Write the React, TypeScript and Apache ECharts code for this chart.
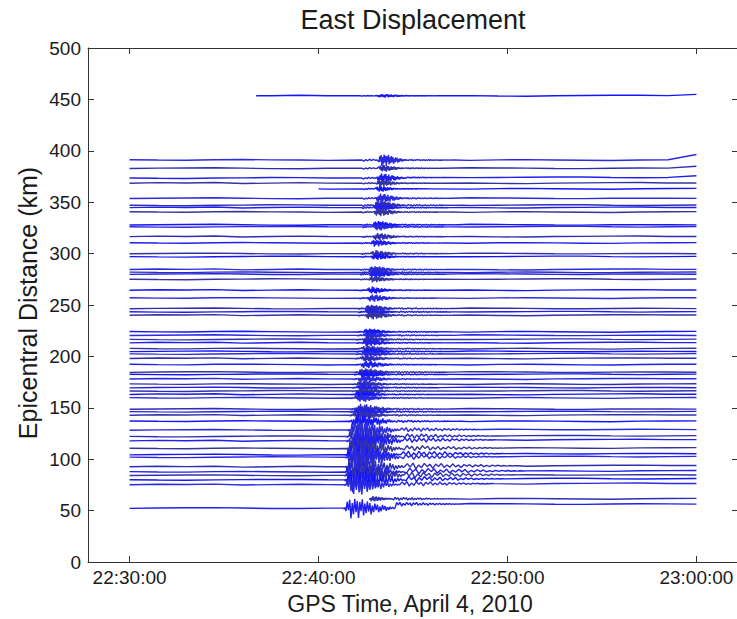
import React, { useEffect, useRef } from "react";
import * as echarts from "echarts";

// ---- axis ----
const TIME_MIN = -2.2; // minutes after 22:30:00
const TIME_MAX = 32.2;
const timeTickValues = [0, 10, 20, 30];
const timeTickLabels = ["22:30:00", "22:40:00", "22:50:00", "23:00:00"];

// ---- traces (one per station) ----
const traceDist = [
  453.5, 391, 383, 373.5, 368.5, 363, 353.8, 347, 344.7, 340.4,
  328, 326, 316.5, 310.3, 300, 297, 284.5, 281.7, 280, 275,
  264.4, 256.7, 246.6, 243.3, 240, 223.9, 220.5, 216.5, 213.2, 207.5,
  204.8, 202.4, 198, 192, 184.7, 182.5, 178, 173, 169.6, 166.3,
  163, 159.6, 148.8, 146.2, 142.8, 136.9, 128.4, 122.1, 117.8, 110.4,
  104.4, 101.9, 92.6, 87.6, 84.3, 79.9, 75.2, 61.5, 52.4,
];
const traceStart = [
  6.7, 0, 0, 0, 0, 10, 0, 0, 0, 0,
  0, 0, 0, 0, 0, 0, 0, 0, 0, 0,
  0, 0, 0, 0, 0, 0, 0, 0, 0, 0,
  0, 0, 0, 0, 0, 0, 0, 0, 0, 0,
  0, 0, 0, 0, 0, 0, 0, 0, 0, 0,
  0, 0, 0, 0, 0, 0, 0, 12.6, 0,
];
// first arrival (min after 22:30)
const traceOnset = [
  12.2, 12.3, 12.3, 12.3, 12.3, 12.35, 12.35, 12.3, 12.3, 12.3,
  12.3, 12.3, 12.3, 12.25, 12.25, 12.25, 12.2, 12.2, 12.2, 12.2,
  12.15, 12.15, 12.1, 12.1, 12.1, 12.05, 12.05, 12.0, 12.0, 12.0,
  12.0, 12.0, 11.95, 11.95, 11.9, 11.9, 11.85, 11.8, 11.8, 11.8,
  11.75, 11.75, 11.7, 11.7, 11.65, 11.6, 11.55, 11.5, 11.5, 11.5,
  11.45, 11.45, 11.45, 11.4, 11.4, 11.4, 11.4, 12.6, 11.35,
];
// delay from first arrival to the strong shaking (min)
const tracePreLen = [
  0.9, 0.9, 0.9, 0.8, 0.8, 0.7, 0.7, 0.7, 0.65, 0.65,
  0.6, 0.6, 0.6, 0.55, 0.55, 0.55, 0.5, 0.5, 0.5, 0.5,
  0.45, 0.45, 0.4, 0.4, 0.4, 0.35, 0.35, 0.35, 0.35, 0.3,
  0.3, 0.3, 0.3, 0.3, 0.25, 0.25, 0.25, 0.25, 0.25, 0.2,
  0.2, 0.2, 0.2, 0.2, 0.2, 0.15, 0.15, 0.15, 0.15, 0.1,
  0.1, 0.1, 0.1, 0.1, 0.1, 0.1, 0.1, 0.1, 0.1,
];
const traceAmp = [
  1.6, 6, 3.5, 4.5, 3.5, 3, 4.5, 5, 4, 4,
  4, 3.5, 3.5, 3.5, 3.5, 3, 3.5, 3.5, 3.5, 3,
  3.5, 3.5, 4, 4, 4, 3.5, 3.5, 3.5, 3.5, 3.5,
  3.5, 3.5, 3.5, 3.5, 4, 4, 3.5, 3.5, 3.5, 3.5,
  3.5, 4, 5, 5, 5, 7, 10, 12, 12, 12,
  12, 12, 12, 12, 12, 12, 10, 2.5, 10,
];
const traceBurstLen = [
  1.8, 1.5, 1.4, 1.5, 1.4, 1.3, 1.5, 1.6, 1.5, 1.5,
  1.5, 1.5, 1.5, 1.5, 1.6, 1.5, 1.6, 1.6, 1.6, 1.5,
  1.6, 1.6, 1.7, 1.7, 1.7, 1.7, 1.7, 1.7, 1.7, 1.8,
  1.8, 1.8, 1.8, 1.8, 1.9, 1.9, 1.9, 1.9, 1.9, 1.9,
  1.9, 1.9, 2.1, 2.1, 2.1, 2.3, 2.6, 2.8, 2.8, 2.8,
  2.8, 2.8, 3.0, 3.0, 3.0, 3.0, 2.8, 1.2, 2.6,
];
const traceCoda = [
  0.5, 1.0, 0.8, 0.9, 0.8, 0.6, 1.1, 1.3, 1.0, 1.0,
  1.1, 1.0, 0.9, 0.9, 0.9, 0.8, 1.0, 1.0, 0.9, 0.8,
  0.8, 0.8, 1.1, 1.1, 1.1, 1.0, 1.0, 0.9, 0.9, 1.0,
  1.0, 1.0, 0.9, 0.9, 1.1, 1.1, 0.9, 0.9, 0.9, 0.9,
  0.9, 0.9, 1.3, 1.3, 1.3, 1.8, 3.0, 3.5, 3.5, 4.0,
  4.0, 4.0, 4.2, 4.5, 4.2, 4.0, 3.5, 2.5, 3.0,
];
const traceCodaLen = [
  1.5, 2.5, 2.0, 2.0, 2.0, 1.5, 2.5, 3.0, 2.5, 2.5,
  3.0, 2.5, 2.5, 2.5, 2.5, 2.0, 2.5, 2.5, 2.5, 2.0,
  2.5, 2.5, 3.0, 3.0, 3.0, 3.0, 3.0, 2.5, 2.5, 3.0,
  3.0, 3.0, 2.5, 2.5, 3.0, 3.0, 2.5, 2.5, 2.5, 2.5,
  2.5, 2.5, 3.0, 3.0, 3.0, 3.5, 4.5, 5.0, 5.0, 5.5,
  5.5, 5.5, 6.0, 6.5, 6.0, 5.5, 5.0, 3.0, 3.5,
];
// coseismic offset after the shaking (km), and extra offset at the last sample (km)
const traceStep = [
  0, 0, 0, 0.5, 0, 0, 0, 0, 0, 0,
  0, 0, 0, 0, 0, 0, 0, 0, 0, 0,
  0, 0, 0, 0, 0, 0, 0, 0, 0, 0,
  0, 0, 0, 0, 0, 0, 0, 0, 0, 0,
  0, 0, 0, 0, 0, 0, 0.5, 0.5, 1, 0.5,
  1, 0.5, 1, 1, 0.5, 1, 1, 0, 4,
];
const traceTail = [
  1.2, 5, 2, 1.5, 0, 0, 0, 0, 0, 0,
  0, 0, 0, 0, 0, 0, 0, 0, 0, 0,
  0, 0, 0, 0, 0, 0, 0, 0, 0, 0,
  0, 0, 0, 0, 0, 0, 0, 0, 0, 0,
  0, 0, 0, 0, 0, 0, 0, 0, 0, 0,
  0, 0, 0, 0, 0, 0, 0, 0, 0,
];

// slow wander of the baselines (km) at these times (min)
const driftTimes = [0, 1.5, 3, 4.5, 6, 7.5, 9, 10.5, 18, 19.5, 21, 22.5, 24, 25.5, 27, 28.5, 30];
const driftA = [0, 0.5, 0.2, 0.6, -0.3, 0.1, 0.5, 0.1, 0.2, -0.2, -0.4, 0.1, 0.3, 0.5, 0.6, 0.2, 0.2];
const driftB = [0.3, 0, -0.2, 0.3, 0.5, 0.2, 0, -0.3, -0.3, 0.2, 0.4, 0.1, -0.2, -0.4, 0.1, 0.3, 0.4];
const driftC = [-0.2, 0.1, 0.3, 0.5, 0.1, -0.3, -0.4, 0, 0.5, 0.3, 0.1, -0.2, -0.3, 0, 0.2, 0.1, -0.1];
const driftD = [0.1, -0.2, -0.4, 0, 0.2, 0.5, 0.4, 0.1, -0.1, 0.1, 0.3, 0.5, 0.5, 0.1, -0.2, 0.1, 0.3];

// hand-drawn wave shapes (relative units)
const preWave = [0, -0.45, 0.15, -0.3, 0.35, -0.2, 0.25, -0.1, 0];
const burstA = [0.2, -0.5, 0.3, -0.9, 0.6, -0.4, 1.0, -0.7, 0.5, -1.0, 0.8, -0.3, 0.9, -0.85, 0.4, -0.6, 0.75, -0.5, 0.3, -0.7, 0.55, -0.2, 0.5, -0.45, 0.35, -0.5, 0.2, -0.3, 0.4, -0.25, 0.15, -0.3, 0.2, -0.1, 0.25, -0.15, 0.1, -0.12, 0.06, 0];
const burstB = [-0.3, 0.6, -0.2, 0.8, -1.0, 0.5, -0.6, 0.9, -0.4, 0.7, -0.95, 0.6, -0.3, 0.85, -0.7, 0.45, -0.5, 0.65, -0.35, 0.5, -0.6, 0.25, -0.4, 0.45, -0.2, 0.35, -0.4, 0.15, -0.3, 0.3, -0.15, 0.2, -0.25, 0.1, -0.15, 0.12, -0.08, 0.1, -0.04, 0];
const burstC = [0.4, -0.2, 0.7, -0.6, 0.3, -0.9, 1.0, -0.5, 0.8, -0.75, 0.35, -0.95, 0.7, -0.4, 0.6, -0.7, 0.25, -0.5, 0.55, -0.45, 0.3, -0.35, 0.5, -0.25, 0.3, -0.4, 0.2, -0.25, 0.3, -0.1, 0.2, -0.2, 0.1, -0.15, 0.12, -0.06, 0.08, -0.05, 0.03, 0];
const codaA = [0.5, -0.3, 0.6, -0.7, 0.2, -0.45, 0.55, -0.2, 0.35, -0.6, 0.4, -0.15, 0.5, -0.4, 0.2, -0.35, 0.45, -0.25, 0.15, -0.4, 0.3, -0.1, 0.25, -0.3, 0.2, -0.15, 0.25, -0.2, 0.1, -0.18, 0.15, -0.08, 0.12, -0.1, 0.06, -0.08, 0.05, -0.04, 0.03, 0];
const codaB = [-0.45, 0.6, -0.2, 0.4, -0.65, 0.3, -0.35, 0.55, -0.15, 0.45, -0.5, 0.2, -0.3, 0.4, -0.45, 0.15, -0.25, 0.35, -0.2, 0.3, -0.35, 0.1, -0.2, 0.25, -0.15, 0.2, -0.2, 0.08, -0.15, 0.12, -0.1, 0.12, -0.06, 0.08, -0.07, 0.04, -0.05, 0.03, -0.02, 0];

const FONT = "'Liberation Sans', Arial, Helvetica, sans-serif";
const palette = ["#1515ff", "#2a2ae0", "#2e2eb4", "#1f1ff2", "#3434a0"];

function buildTrace(i: number): number[][] {
  const d = traceDist[i];
  const s = traceStart[i];
  const on = traceOnset[i];
  const preLen = tracePreLen[i];
  const amp = traceAmp[i];
  const bl = traceBurstLen[i];
  const ca = traceCoda[i];
  const cl = traceCodaLen[i];
  const step = traceStep[i];
  const drift = [driftA, driftB, driftC, driftD][i % 4];
  const burst = [burstA, burstB, burstC][i % 3];
  const coda = [codaA, codaB][i % 2];
  const burstStart = on + preLen;
  const codaEnd = burstStart + bl + cl;
  const pts: number[][] = [];

  if (s > 0 && s < on) pts.push([s, d]);
  driftTimes.forEach((t, k) => {
    if (t >= s && t < on - 0.2) pts.push([t, d + drift[k]]);
  });
  if (s < on) {
    preWave.forEach((v, k) => {
      pts.push([on + (k * preLen) / preWave.length, d + v * Math.min(amp, 5) * 0.5]);
    });
  }
  burst.forEach((v, k) => {
    pts.push([burstStart + (k * bl) / (burst.length - 1), d + v * amp]);
  });
  coda.forEach((v, k) => {
    pts.push([burstStart + bl + ((k + 1) * cl) / coda.length, d + step + v * ca]);
  });
  driftTimes.forEach((t, k) => {
    if (t > codaEnd + 0.3) {
      pts.push([t, d + step + drift[k] + (t === 30 ? traceTail[i] : 0)]);
    }
  });
  return pts;
}

export default function App() {
  const ref = useRef<HTMLDivElement>(null);

  useEffect(() => {
    if (!ref.current) return;
    const chart = echarts.init(ref.current, undefined, { renderer: "svg" });

    const series = traceDist.map((_, i) => ({
      type: "line",
      data: buildTrace(i),
      showSymbol: false,
      symbol: "none",
      silent: true,
      lineStyle: { color: palette[i % palette.length], width: 1.4 },
      emphasis: { disabled: true },
    }));

    const axisColor = "#333";
    const tickFmt = (v: number) => {
      const k = timeTickValues.indexOf(Math.round(v));
      return k >= 0 ? timeTickLabels[k] : "";
    };

    chart.setOption({
      animation: false,
      backgroundColor: "#ffffff",
      grid: { left: 88, top: 48, width: 650, height: 514, containLabel: false },
      xAxis: [
        {
          type: "value",
          position: "bottom",
          min: TIME_MIN,
          max: TIME_MAX,
          axisLine: { show: true, onZero: false, lineStyle: { color: axisColor, width: 1 } },
          axisTick: { show: true, inside: true, length: 6, customValues: timeTickValues, lineStyle: { color: axisColor } },
          axisLabel: {
            customValues: timeTickValues,
            formatter: tickFmt,
            fontSize: 19,
            color: "#1a1a1a",
            fontFamily: FONT,
            margin: 6,
          },
          splitLine: { show: false },
        },
        {
          type: "value",
          position: "top",
          min: TIME_MIN,
          max: TIME_MAX,
          axisLine: { show: true, onZero: false, lineStyle: { color: axisColor, width: 1 } },
          axisTick: { show: true, inside: true, length: 6, customValues: timeTickValues, lineStyle: { color: axisColor } },
          axisLabel: { show: false },
          splitLine: { show: false },
        },
      ],
      yAxis: [
        {
          type: "value",
          position: "left",
          min: 0,
          max: 500,
          interval: 50,
          axisLine: { show: true, onZero: false, lineStyle: { color: axisColor, width: 1 } },
          axisTick: { show: true, inside: true, length: 6, lineStyle: { color: axisColor } },
          axisLabel: { fontSize: 19, color: "#1a1a1a", fontFamily: FONT, margin: 7 },
          splitLine: { show: false },
        },
        {
          type: "value",
          position: "right",
          min: 0,
          max: 500,
          interval: 50,
          axisLine: { show: true, onZero: false, lineStyle: { color: axisColor, width: 1 } },
          axisTick: { show: true, inside: true, length: 6, lineStyle: { color: axisColor } },
          axisLabel: { show: false },
          splitLine: { show: false },
        },
      ],
      graphic: [
        {
          type: "text",
          x: 413,
          y: 20,
          style: {
            text: "East Displacement",
            fontSize: 27,
            fontFamily: FONT,
            fill: "#1a1a1a",
            textAlign: "center",
            textVerticalAlign: "middle",
          },
        },
        {
          type: "text",
          x: 410,
          y: 604,
          style: {
            text: "GPS Time, April 4, 2010",
            fontSize: 23,
            fontFamily: FONT,
            fill: "#1a1a1a",
            textAlign: "center",
            textVerticalAlign: "middle",
          },
        },
        {
          type: "text",
          x: 28,
          y: 303,
          rotation: Math.PI / 2,
          style: {
            text: "Epicentral Distance (km)",
            fontSize: 25,
            fontFamily: FONT,
            fill: "#1a1a1a",
            textAlign: "center",
            textVerticalAlign: "middle",
          },
        },
      ],
      series,
    });

    return () => chart.dispose();
  }, []);

  return (
    <div
      ref={ref}
      style={{ position: "fixed", left: 0, top: 0, width: 745, height: 619, background: "#fff" }}
    />
  );
}
